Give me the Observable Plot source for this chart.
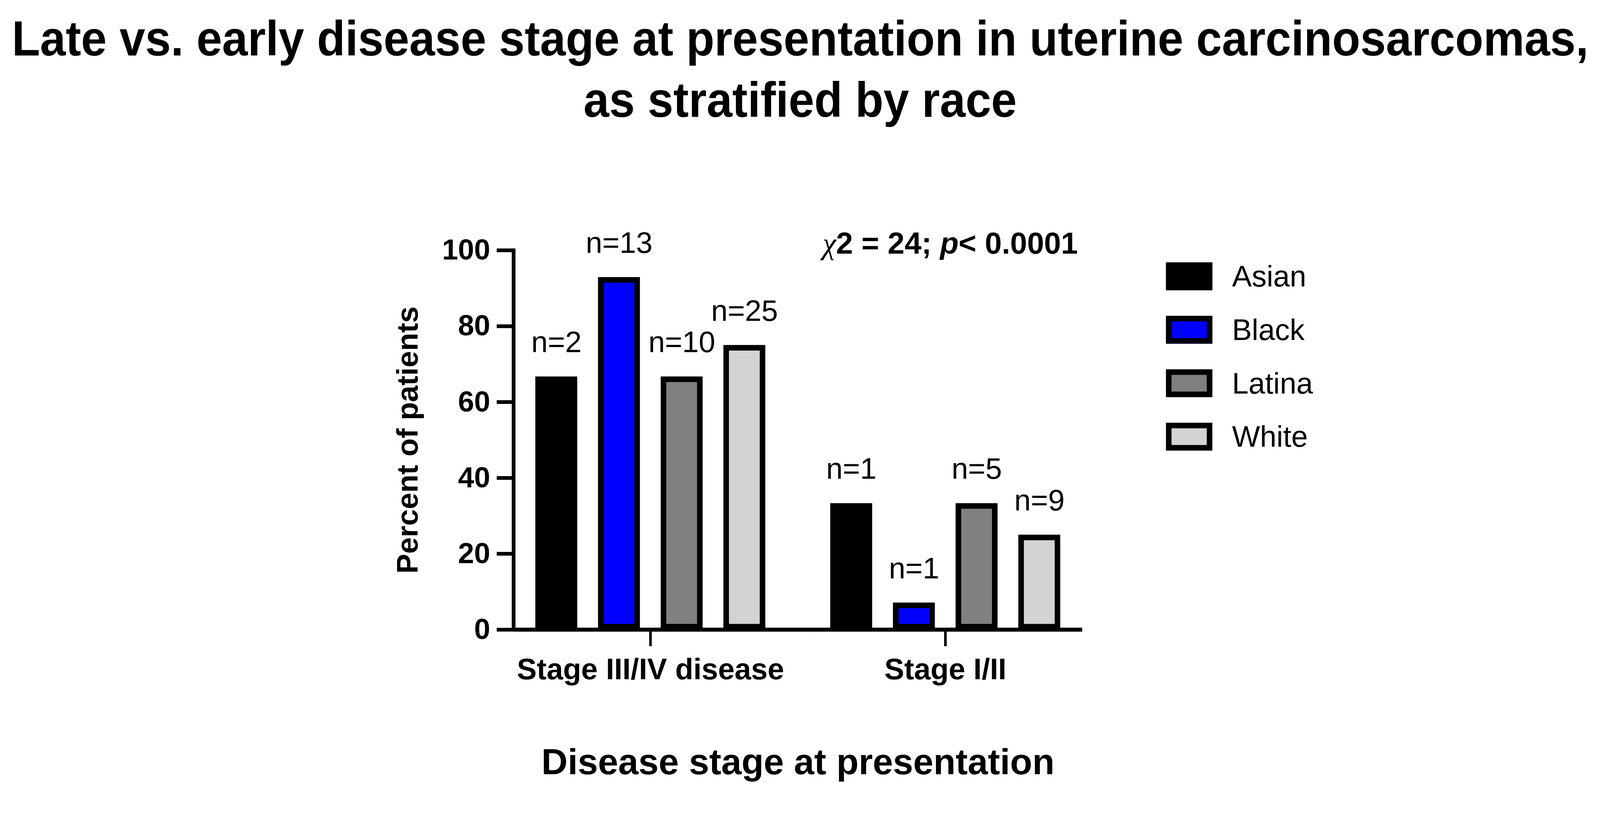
<!DOCTYPE html>
<html>
<head>
<meta charset="utf-8">
<script src="https://cdn.jsdelivr.net/npm/d3@7"></script>
<script src="https://cdn.jsdelivr.net/npm/@observablehq/plot@0.6"></script>
<style>
  html, body { margin: 0; padding: 0; background: #fff; width: 100%; height: 100%; overflow: hidden; }
  #root { position: absolute; left: 0; top: 0; width: 4313px; height: 2134px; transform-origin: 0 0;
          font-family: "Liberation Sans", Arial, Helvetica, sans-serif; color: #000; overflow: hidden; background: #fff; }
  #title { position: absolute; left: 0; top: 22px; width: 4313px; font-size: 132px; font-weight: bold; line-height: 165px; }
  #title .tl { display: flex; justify-content: center; white-space: nowrap; height: 165px; }
  #title .tl span { display: inline-block; flex: none; transform-origin: 50% 50%; }
  #chart { position: absolute; left: 0; top: 400px; }
  #legend { position: absolute; left: 3143px; top: 707px; display: flex; flex-direction: column; gap: 69px; }
  .item { display: flex; align-items: center; height: 75px; }
  .sw { width: 125px; height: 75px; box-sizing: border-box; border: 15px solid #000; }
  .lab { margin-left: 53px; font-size: 80px; line-height: 75px; }
</style>
</head>
<body>
<div id="root">
  <div id="title"></div>
  <div id="chart"></div>
  <div id="legend"></div>
</div>
<script>
// ---- data ----
const titleLines = ["Late vs. early disease stage at presentation in uterine carcinosarcomas,", "as stratified by race"];
const stages = ["Stage III/IV disease", "Stage I/II"];
const races = ["Asian", "Black", "Latina", "White"];
const lateValues = [66.7, 92.9, 66.7, 75];
const earlyValues = [33.3, 7.1, 33.3, 25];
const lateCounts = [2, 13, 10, 25];
const earlyCounts = [1, 1, 5, 9];
const raceColors = ["#000000", "#0000ff", "#808080", "#d3d3d3"];
const yTicks = [0, 20, 40, 60, 80, 100];
const yLabel = "Percent of patients";
const xLabel = "Disease stage at presentation";
const chiText = "χ2 = 24; p< 0.0001";
const chiParts = [["χ", "chi"], ["2 = 24; ", ""], ["p", "it"], ["< 0.0001", ""]];

const FONT = "'Liberation Sans', Arial, Helvetica, sans-serif";
const PAGE_W = 4313, PAGE_H = 2134;

// title: centred lines, condensed horizontally (same factor for both) so the long line fits
const titleEl = document.getElementById("title");
const maxTitleWidth = 4250;
titleLines.forEach(l => {
  const line = document.createElement("div");
  line.className = "tl";
  const s = document.createElement("span");
  s.textContent = l;
  line.appendChild(s);
  titleEl.appendChild(line);
});
const titleSpans = [...titleEl.querySelectorAll(".tl span")];
const widest = Math.max(...titleSpans.map(s => s.offsetWidth));
const squeeze = Math.min(1, maxTitleWidth / widest);
titleSpans.forEach(s => { s.style.transform = `scaleX(${squeeze})`; });

// table
const data = [];
stages.forEach((s, i) => races.forEach((r, j) => data.push({
  stage: s, race: r,
  value: (i === 0 ? lateValues : earlyValues)[j],
  n: (i === 0 ? lateCounts : earlyCounts)[j]
})));

const W = 3000, ML = 1383, MR = 83;
const fxPad = 0.0717;
const facetGap = (W - ML - MR) * fxPad / (2 - fxPad);   // px between the two facet frames

const plot = Plot.plot({
  width: W,
  height: 1734,
  marginLeft: ML,
  marginRight: MR,
  marginTop: 274,
  marginBottom: 438,
  style: { fontFamily: FONT, background: "transparent", overflow: "visible", color: "#000" },
  fx: { domain: stages, paddingInner: fxPad, paddingOuter: 0 },
  x: { domain: races, paddingInner: 0.33, paddingOuter: 0.337, axis: null },
  y: { domain: [0, 100] },
  color: { domain: races, range: raceColors },
  marks: [
    Plot.barY(data, { fx: "stage", x: "race", y: "value", fill: "race", stroke: "#000", strokeWidth: 15, inset: 7.5 }),
    // baseline: first facet's rule bridges the gap to the second facet
    Plot.ruleY([stages[0]], { fx: d => d, y: () => 0, stroke: "#000", strokeWidth: 11, insetRight: -facetGap - 1 }),
    Plot.ruleY([stages[1]], { fx: d => d, y: () => 0, stroke: "#000", strokeWidth: 11 }),
    Plot.frame({ anchor: "left", facetAnchor: "left", stroke: "#000", strokeWidth: 10 }),
    Plot.axisY({ ticks: yTicks, tickSize: 45, tickPadding: 18, strokeWidth: 10, fontSize: 78, fontWeight: "bold",
      label: yLabel, labelAnchor: "center", labelOffset: 316, labelArrow: "none" }),
    Plot.axisFx({ anchor: "bottom", tickSize: 45, tickPadding: 32, strokeWidth: 7, fontSize: 80, fontWeight: "bold",
      label: xLabel, labelAnchor: "center", labelOffset: 389 }),
    Plot.text(data, { fx: "stage", x: "race", y: "value", text: d => "n=" + d.n, dy: -66, lineAnchor: "bottom", fontSize: 80 }),
    Plot.text([chiText], { fx: () => stages[1], y: () => 100, text: d => d, frameAnchor: "right", textAnchor: "end",
      lineAnchor: "bottom", dx: -12, dy: 9, fontSize: 82, fontWeight: "bold" })
  ]
});
document.getElementById("chart").appendChild(plot);

// styling tweaks on text elements
for (const t of plot.querySelectorAll("text")) {
  if (t.textContent === chiText) {
    t.textContent = "";
    t.style.whiteSpace = "pre";
    for (const [s, k] of chiParts) {
      const ts = document.createElementNS("http://www.w3.org/2000/svg", "tspan");
      ts.textContent = s;
      if (k === "chi") { ts.setAttribute("font-weight", "normal"); ts.setAttribute("font-family", "'Liberation Serif', 'DejaVu Serif', serif"); ts.setAttribute("font-style", "italic"); }
      if (k === "it") ts.setAttribute("font-style", "italic");
      t.appendChild(ts);
    }
  } else if (t.textContent === xLabel) {
    t.setAttribute("font-size", 98);
  } else if (t.textContent === yLabel) {
    t.setAttribute("font-size", 80);
  }
}

// legend
const legend = document.getElementById("legend");
races.forEach((r, i) => {
  const item = document.createElement("div");
  item.className = "item";
  const sw = document.createElement("div");
  sw.className = "sw";
  sw.style.background = raceColors[i];
  const lab = document.createElement("div");
  lab.className = "lab";
  lab.textContent = r;
  item.appendChild(sw);
  item.appendChild(lab);
  legend.appendChild(item);
});

// fit the whole page into the actual viewport
function fitPage() {
  const k = Math.min(window.innerWidth / PAGE_W, window.innerHeight / PAGE_H);
  document.getElementById("root").style.transform = (k > 0 && Math.abs(k - 1) > 1e-3) ? `scale(${k})` : "";
}
fitPage();
window.addEventListener("resize", fitPage);
</script>
</body>
</html>
